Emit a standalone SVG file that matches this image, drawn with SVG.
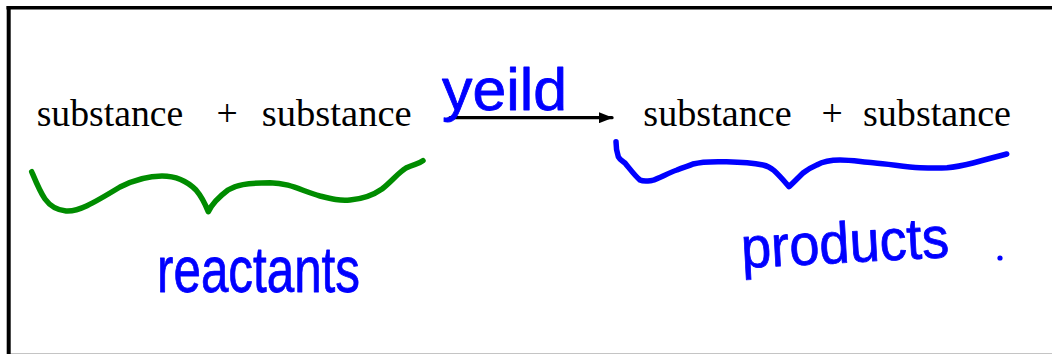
<svg xmlns="http://www.w3.org/2000/svg" width="1052" height="354" viewBox="0 0 1052 354">
  <style>
    .formula { font-family: "Liberation Serif", "Times New Roman", serif; font-size: 37.7px; fill: #000; }
    .ink { font-family: "Liberation Sans", Arial, sans-serif; fill: #0000ff; stroke: #0000ff; stroke-width: 0.8; stroke-linejoin: round; }
    .brace { fill: none; stroke-width: 5.5; stroke-linecap: round; stroke-linejoin: round; }
  </style>
  <defs>
    <marker id="arrowhead" viewBox="0 0 14 11" refX="13" refY="5.5" markerWidth="14" markerHeight="11" markerUnits="userSpaceOnUse" orient="auto">
      <path d="M0,0 L14,5.5 L0,11 Z" fill="#000"/>
    </marker>
  </defs>

  <rect width="1052" height="354" fill="#fff"/>

  <!-- slide frame -->
  <g id="frame">
    <line x1="10" y1="353.5" x2="1052" y2="353.5" stroke="#c4c4c4" stroke-width="1"/>
    <line x1="6.5" y1="7.7" x2="1052" y2="7.7" stroke="#000" stroke-width="3.4"/>
    <line x1="8.7" y1="6" x2="8.7" y2="354" stroke="#000" stroke-width="4"/>
  </g>

  <!-- left side of the equation -->
  <g id="reactant-side">
    <text class="formula" x="36.7" y="126" textLength="146.6" lengthAdjust="spacingAndGlyphs">substance</text>
    <text class="formula" x="216.5" y="126">+</text>
    <text class="formula" x="261.7" y="126" textLength="150" lengthAdjust="spacingAndGlyphs">substance</text>
  </g>

  <!-- right side of the equation -->
  <g id="product-side">
    <text class="formula" x="643.3" y="126" textLength="148.4" lengthAdjust="spacingAndGlyphs">substance</text>
    <text class="formula" x="821.5" y="126">+</text>
    <text class="formula" x="863" y="126" textLength="148" lengthAdjust="spacingAndGlyphs">substance</text>
  </g>

  <!-- reaction arrow -->
  <g id="connectors">
    <line x1="450" y1="117.7" x2="612" y2="117.7" stroke="#000" stroke-width="3.3" stroke-linecap="round" marker-end="url(#arrowhead)"/>
  </g>

  <!-- handwritten annotations -->
  <g id="yield-label">
    <text class="ink" x="442" y="110" font-size="60" textLength="125" lengthAdjust="spacingAndGlyphs">yeild</text>
  </g>

  <g id="reactants-brace">
    <path class="brace" stroke="#008c00" d="M31.7,171.7 C36,182 40,192 45,199 C50,206 56,210 66,211 C78,212 92,204 120,187 C134,180 148,176 162,176 C175,176 187,181 196,190 C202,197 206,206 208.3,211.7 C212,204 220,196 228,190 C236,185 246,183 270,182.7 C290,183 302,191 320,196 C332,199 340,201 350,200 C362,199 372,196 382,189 C392,181 398,173 406,168 C414,164 419,164 423,160.7"/>
  </g>
  <g id="reactants-label">
    <text class="ink" x="157" y="292" font-size="64" textLength="203" lengthAdjust="spacingAndGlyphs">reactants</text>
  </g>

  <g id="products-brace">
    <path class="brace" stroke="#0000ff" d="M616,141.7 C616,148 617,153 618.3,156.7 C620,160 623,161 625,163 C630,169 635,176 640,180 C644,182 648,181 652,180.5 C660,178 668,173 677,170 C684,167 689,166 693,164 C700,162 712,161.5 723,161.7 C735,162 748,162 763,165 C768,166 771,168 774,170.5 C780,176 785,182 789,186.7 C794,182 799,177 803,173 C808,169 812,167 816.7,165 C824,161 832,160 840,160 C852,160 862,162 873,162.7 C890,164 905,167 920,167.7 C932,168 940,168 947,167.7 C956,167 965,165 973,163 C984,160 995,157 1006.7,154"/>
  </g>
  <g id="products-label">
    <text class="ink" x="742" y="268" font-size="58" textLength="208" lengthAdjust="spacingAndGlyphs" transform="rotate(-3 742 268)">products</text>
    <circle cx="1000" cy="258" r="2.6" fill="#0000ff"/>
  </g>
</svg>
